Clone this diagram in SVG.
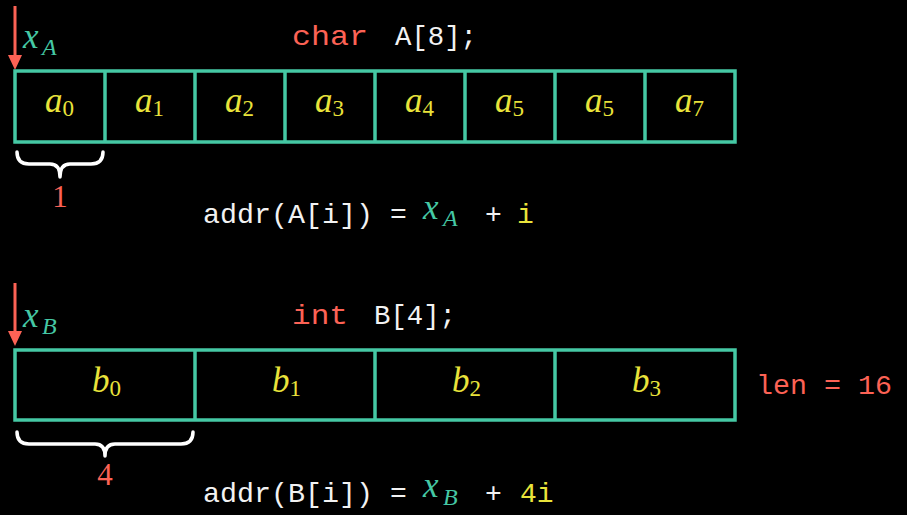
<svg xmlns="http://www.w3.org/2000/svg" width="907" height="515" viewBox="0 0 907 515">
<defs>
<style>
.bg{fill:#000}
.cell{fill:none;stroke:#45C8A4;stroke-width:3.5;stroke-linejoin:miter}
.ptr{stroke:#FC6255;stroke-width:3}
.head{fill:#FC6255}
.brace{fill:none;stroke:#fff;stroke-width:3.5;stroke-linecap:round;stroke-linejoin:round}
.code{font-family:"Liberation Mono","DejaVu Sans Mono",monospace;font-size:28px}
.math{font-family:"Liberation Serif","DejaVu Serif",serif;font-style:italic;font-size:35px}
.sub{font-family:"Liberation Serif","DejaVu Serif",serif;font-style:normal;font-size:23px}
.subi{font-family:"Liberation Serif","DejaVu Serif",serif;font-style:italic;font-size:24px}
.num{font-family:"Liberation Serif","DejaVu Serif",serif;font-size:31px;fill:#FC6255}
.red{fill:#FC6255}
.white{fill:#F2F2F2}
.yel{fill:#E9E33B}
.teal{fill:#45C8A4}
</style>
</defs>
<rect class="bg" x="0" y="0" width="907" height="515"/>

<g id="connectors">
  <line class="ptr" x1="15" y1="6" x2="15" y2="56"/>
  <polygon class="head" points="8,55 22,55 15,70"/>
  <line class="ptr" x1="15" y1="283" x2="15" y2="332"/>
  <polygon class="head" points="8,331 22,331 15,346"/>
</g>

<g id="labelA">
  <text class="math teal" x="23" y="48">x</text>
  <text class="subi teal" x="42" y="55">A</text>
  <text class="code red" x="292" y="45" textLength="76" lengthAdjust="spacingAndGlyphs">char</text>
  <text class="code white" x="395" y="45" textLength="82" lengthAdjust="spacingAndGlyphs">A[8];</text>
</g>

<g id="arrayA">
  <rect class="cell" x="15" y="71" width="720" height="71"/>
  <line class="cell" x1="105" y1="71" x2="105" y2="142"/>
  <line class="cell" x1="195" y1="71" x2="195" y2="142"/>
  <line class="cell" x1="285" y1="71" x2="285" y2="142"/>
  <line class="cell" x1="375" y1="71" x2="375" y2="142"/>
  <line class="cell" x1="465" y1="71" x2="465" y2="142"/>
  <line class="cell" x1="555" y1="71" x2="555" y2="142"/>
  <line class="cell" x1="645" y1="71" x2="645" y2="142"/>
  <text class="math yel" x="45" y="112">a<tspan class="sub" dy="4">0</tspan></text>
  <text class="math yel" x="135" y="112">a<tspan class="sub" dy="4">1</tspan></text>
  <text class="math yel" x="225" y="112">a<tspan class="sub" dy="4">2</tspan></text>
  <text class="math yel" x="315" y="112">a<tspan class="sub" dy="4">3</tspan></text>
  <text class="math yel" x="405" y="112">a<tspan class="sub" dy="4">4</tspan></text>
  <text class="math yel" x="495" y="112">a<tspan class="sub" dy="4">5</tspan></text>
  <text class="math yel" x="585" y="112">a<tspan class="sub" dy="4">5</tspan></text>
  <text class="math yel" x="675" y="112">a<tspan class="sub" dy="4">7</tspan></text>
</g>

<g id="braceA">
  <path class="brace" d="M17,152 Q17,164 29,164 L50,164 Q60,164 60,177 Q60,164 70,164 L91,164 Q103,164 103,152"/>
  <text class="num" x="60" y="207" text-anchor="middle">1</text>
</g>

<g id="formulaA">
  <text class="code white" x="203" y="223" textLength="170" lengthAdjust="spacingAndGlyphs">addr(A[i])</text>
  <text class="code white" x="390" y="223">=</text>
  <text class="math teal" x="423" y="219">x</text>
  <text class="subi teal" x="443" y="226">A</text>
  <text class="code white" x="485" y="223">+</text>
  <text class="code yel" x="517" y="223">i</text>
</g>

<g id="labelB">
  <text class="math teal" x="23" y="327">x</text>
  <text class="subi teal" x="42" y="334">B</text>
  <text class="code red" x="292" y="324" textLength="56" lengthAdjust="spacingAndGlyphs">int</text>
  <text class="code white" x="374" y="324" textLength="82" lengthAdjust="spacingAndGlyphs">B[4];</text>
</g>

<g id="arrayB">
  <rect class="cell" x="15" y="350" width="720" height="70"/>
  <line class="cell" x1="195" y1="350" x2="195" y2="420"/>
  <line class="cell" x1="375" y1="350" x2="375" y2="420"/>
  <line class="cell" x1="555" y1="350" x2="555" y2="420"/>
  <text class="math yel" x="92" y="392">b<tspan class="sub" dy="4">0</tspan></text>
  <text class="math yel" x="272" y="392">b<tspan class="sub" dy="4">1</tspan></text>
  <text class="math yel" x="452" y="392">b<tspan class="sub" dy="4">2</tspan></text>
  <text class="math yel" x="632" y="392">b<tspan class="sub" dy="4">3</tspan></text>
</g>

<g id="lenB">
  <text class="code red" x="756" y="394" textLength="136" lengthAdjust="spacingAndGlyphs">len = 16</text>
</g>

<g id="braceB">
  <path class="brace" d="M17,432 Q17,444 29,444 L95,444 Q105,444 105,456 Q105,444 115,444 L181,444 Q193,444 193,432"/>
  <text class="num" x="105" y="485" text-anchor="middle">4</text>
</g>

<g id="formulaB">
  <text class="code white" x="203" y="502" textLength="170" lengthAdjust="spacingAndGlyphs">addr(B[i])</text>
  <text class="code white" x="390" y="502">=</text>
  <text class="math teal" x="423" y="497">x</text>
  <text class="subi teal" x="443" y="505">B</text>
  <text class="code white" x="485" y="502">+</text>
  <text class="code yel" x="520" y="502">4i</text>
</g>
</svg>
